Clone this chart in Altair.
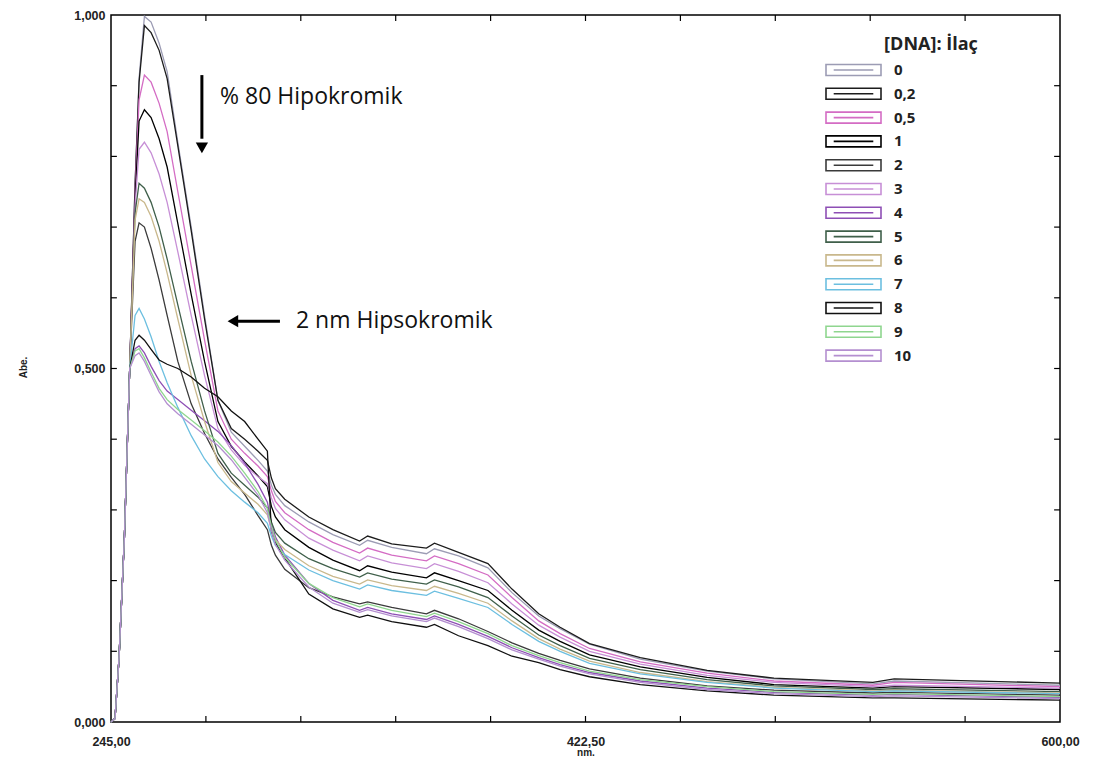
import altair as alt
import pandas as pd

# Wavelength grid (nm) shared by all spectra
WL = [245, 246.5, 248, 250, 252, 254, 255.5, 257.5, 260, 263, 266, 270, 275, 280, 285,
      290, 295, 300, 303.5, 305, 306.5, 310, 319, 328, 338, 341, 350, 363, 366, 375,
      386, 395, 405, 413, 424, 443, 468, 493, 530, 538, 600]

CONC = ["0", "0,2", "0,5", "1", "2", "3", "4", "5", "6", "7", "8", "9", "10"]
COLORS = ["#9c9cb4", "#1c1c1c", "#d46cc4", "#000000", "#3a3a3a", "#c78fd6", "#8e4fb5",
          "#3f5f4a", "#c9b88c", "#6cbfe0", "#101010", "#8fd68f", "#b48fd0"]

S_0 = [0, 0.005, 0.09, 0.26, 0.50, 0.76, 0.91, 0.998, 0.99, 0.96, 0.92, 0.82, 0.70, 0.575, 0.455,
       0.41, 0.39, 0.37, 0.355, 0.335, 0.322, 0.306, 0.283, 0.265, 0.25, 0.257, 0.247, 0.238, 0.245, 0.235,
       0.218, 0.183, 0.15, 0.132, 0.11, 0.089, 0.072, 0.061, 0.054, 0.058, 0.052]
S_02 = [0, 0.005, 0.09, 0.26, 0.50, 0.76, 0.905, 0.985, 0.975, 0.95, 0.91, 0.815, 0.695, 0.57, 0.455,
        0.415, 0.40, 0.383, 0.37, 0.345, 0.33, 0.315, 0.29, 0.272, 0.256, 0.263, 0.252, 0.246, 0.253, 0.24,
        0.224, 0.188, 0.153, 0.134, 0.111, 0.091, 0.073, 0.062, 0.056, 0.061, 0.055]
S_05 = [0, 0.005, 0.09, 0.26, 0.50, 0.75, 0.88, 0.915, 0.905, 0.875, 0.835, 0.75, 0.645, 0.54, 0.44,
        0.40, 0.38, 0.362, 0.347, 0.327, 0.312, 0.296, 0.272, 0.254, 0.239, 0.246, 0.236, 0.228, 0.235, 0.224,
        0.208, 0.176, 0.143, 0.125, 0.104, 0.085, 0.069, 0.058, 0.052, 0.056, 0.05]
S_1 = [0, 0.005, 0.09, 0.26, 0.50, 0.74, 0.85, 0.866, 0.855, 0.825, 0.785, 0.705, 0.605, 0.51, 0.425,
       0.39, 0.368, 0.348, 0.333, 0.305, 0.29, 0.272, 0.247, 0.229, 0.214, 0.221, 0.212, 0.204, 0.211, 0.2,
       0.186, 0.158, 0.13, 0.114, 0.095, 0.078, 0.063, 0.053, 0.048, 0.05, 0.046]
S_2 = [0, 0.005, 0.09, 0.26, 0.50, 0.68, 0.706, 0.70, 0.67, 0.625, 0.575, 0.51, 0.45, 0.408, 0.372,
       0.346, 0.322, 0.292, 0.272, 0.25, 0.236, 0.216, 0.19, 0.177, 0.167, 0.17, 0.162, 0.153, 0.158, 0.146,
       0.128, 0.112, 0.097, 0.087, 0.075, 0.062, 0.051, 0.045, 0.041, 0.042, 0.038]
S_3 = [0, 0.005, 0.09, 0.26, 0.50, 0.73, 0.81, 0.82, 0.805, 0.775, 0.735, 0.665, 0.575, 0.49, 0.415,
       0.385, 0.363, 0.347, 0.337, 0.317, 0.302, 0.286, 0.26, 0.243, 0.228, 0.235, 0.225, 0.217, 0.224, 0.213,
       0.197, 0.167, 0.137, 0.12, 0.1, 0.082, 0.066, 0.056, 0.05, 0.052, 0.048]
S_4 = [0, 0.005, 0.09, 0.26, 0.50, 0.528, 0.532, 0.522, 0.503, 0.483, 0.468, 0.456, 0.441, 0.426, 0.411,
       0.391, 0.366, 0.336, 0.311, 0.282, 0.262, 0.236, 0.196, 0.172, 0.158, 0.162, 0.153, 0.145, 0.15, 0.138,
       0.121, 0.105, 0.091, 0.081, 0.07, 0.058, 0.048, 0.042, 0.038, 0.039, 0.035]
S_5 = [0, 0.005, 0.09, 0.26, 0.50, 0.72, 0.762, 0.755, 0.735, 0.70, 0.655, 0.59, 0.51, 0.44, 0.38,
       0.352, 0.335, 0.318, 0.303, 0.283, 0.268, 0.253, 0.231, 0.217, 0.205, 0.211, 0.202, 0.195, 0.201, 0.191,
       0.176, 0.15, 0.123, 0.108, 0.09, 0.074, 0.06, 0.051, 0.046, 0.047, 0.043]
S_6 = [0, 0.005, 0.09, 0.26, 0.50, 0.71, 0.74, 0.735, 0.715, 0.68, 0.635, 0.57, 0.49, 0.425, 0.367,
       0.34, 0.324, 0.308, 0.293, 0.273, 0.258, 0.244, 0.221, 0.206, 0.195, 0.201, 0.193, 0.186, 0.192, 0.182,
       0.168, 0.143, 0.118, 0.103, 0.086, 0.07, 0.057, 0.049, 0.044, 0.045, 0.041]
S_7 = [0, 0.005, 0.09, 0.26, 0.50, 0.575, 0.585, 0.57, 0.545, 0.51, 0.48, 0.445, 0.405, 0.372, 0.347,
       0.327, 0.311, 0.296, 0.281, 0.263, 0.25, 0.237, 0.215, 0.2, 0.188, 0.194, 0.186, 0.179, 0.185, 0.175,
       0.162, 0.138, 0.114, 0.1, 0.083, 0.068, 0.056, 0.048, 0.043, 0.044, 0.04]
S_8 = [0, 0.005, 0.09, 0.26, 0.50, 0.54, 0.547, 0.54, 0.527, 0.512, 0.506, 0.50, 0.488, 0.472, 0.46,
       0.44, 0.425, 0.40, 0.383, 0.27, 0.254, 0.232, 0.181, 0.16, 0.148, 0.151, 0.142, 0.134, 0.138, 0.122,
       0.108, 0.093, 0.084, 0.074, 0.064, 0.053, 0.044, 0.038, 0.034, 0.034, 0.031]
S_9 = [0, 0.005, 0.09, 0.26, 0.50, 0.525, 0.528, 0.515, 0.495, 0.472, 0.456, 0.442, 0.427, 0.412, 0.396,
       0.376, 0.352, 0.326, 0.302, 0.277, 0.257, 0.233, 0.196, 0.176, 0.163, 0.167, 0.158, 0.149, 0.154, 0.142,
       0.125, 0.108, 0.094, 0.084, 0.072, 0.06, 0.05, 0.043, 0.039, 0.04, 0.036]
S_10 = [0, 0.005, 0.09, 0.26, 0.50, 0.518, 0.522, 0.51, 0.49, 0.467, 0.45, 0.436, 0.421, 0.406, 0.391,
        0.371, 0.346, 0.321, 0.296, 0.271, 0.251, 0.229, 0.191, 0.168, 0.155, 0.159, 0.15, 0.142, 0.147, 0.135,
        0.118, 0.102, 0.089, 0.079, 0.068, 0.056, 0.046, 0.04, 0.036, 0.037, 0.033]

SERIES = [S_0, S_02, S_05, S_1, S_2, S_3, S_4, S_5, S_6, S_7, S_8, S_9, S_10]

X_LABELS = [245, 422.5, 600]
Y_LABELS = [0, 0.5, 1.0]
X_TICKS = [280.5, 316, 351.5, 387, 422.5, 458, 493.5, 529, 564.5]
Y_TICKS = [0.1, 0.2, 0.3, 0.4, 0.5, 0.6, 0.7, 0.8, 0.9]

LEGEND_TITLE = "[DNA]: İlaç"
ANNOT_TEXT = ["% 80 Hipokromik", "2 nm Hipsokromik"]
ANNOT_X = [285.8, 314.2]
ANNOT_Y = [0.884, 0.567]

rows = []
for name, vals in zip(CONC, SERIES):
    for w, a in zip(WL, vals):
        rows.append({"conc": name, "wl": w, "abs": a})
df = pd.DataFrame(rows)

# inner tick marks on the frame
tick_rows = []
for t in X_TICKS:
    tick_rows.append({"wl": t, "wl2": t, "abs": 0.0, "abs2": 0.0085})
    tick_rows.append({"wl": t, "wl2": t, "abs": 1.0, "abs2": 0.9915})
for t in Y_TICKS:
    tick_rows.append({"wl": 245.0, "wl2": 247.2, "abs": t, "abs2": t})
    tick_rows.append({"wl": 600.0, "wl2": 597.8, "abs": t, "abs2": t})
ticks_df = pd.DataFrame(tick_rows)

shaft_df = pd.DataFrame([
    {"wl": 279.0, "wl2": 279.0, "abs": 0.915, "abs2": 0.825},
    {"wl": 292.5, "wl2": 308.2, "abs": 0.567, "abs2": 0.567},
])
head_df = pd.DataFrame([
    {"wl": 279.0, "abs": 0.812, "shape": "triangle-down"},
    {"wl": 290.6, "abs": 0.567, "shape": "triangle-left"},
])
text_df = pd.DataFrame({"label": ANNOT_TEXT, "wl": ANNOT_X, "abs": ANNOT_Y})
ltitle_df = pd.DataFrame({"label": [LEGEND_TITLE], "wl": [534.2], "abs": [0.958]})

xscale = alt.Scale(domain=[245, 600], nice=False, zero=False)
yscale = alt.Scale(domain=[0, 1], nice=False, zero=False)

legend = alt.Legend(
    title=None,
    orient="none", legendX=714, legendY=48, padding=0,
    symbolType="M-1,-0.2H1V0.2H-1Z M-0.72,0H0.72",
    symbolSize=3025, symbolStrokeWidth=1.6, clipHeight=14,
    rowPadding=8.8, labelOffset=12,
    labelFont="Open Sans", labelFontWeight="bold", labelFontSize=15, labelColor="#222",
)

lines = alt.Chart(df).mark_line(strokeWidth=1.3).encode(
    x=alt.X("wl:Q", scale=xscale, axis=alt.Axis(
        values=X_LABELS, title="nm.",
        labelExpr="replace(format(datum.value, '.2f'), '.', ',')",
        labelFont="Liberation Sans", labelFontSize=12.5, labelFontWeight="bold", labelColor="#222",
        labelPadding=13, labelFlush=False,
        titleFont="Liberation Sans", titleFontSize=10, titleFontWeight="bold", titleColor="#222",
        titlePadding=0)),
    y=alt.Y("abs:Q", scale=yscale, axis=alt.Axis(
        values=Y_LABELS, title="Abe.",
        labelExpr="replace(format(datum.value, '.3f'), '.', ',')",
        labelFont="Liberation Sans", labelFontSize=12.5, labelFontWeight="bold", labelColor="#222",
        labelPadding=6,
        titleFont="Liberation Sans", titleFontSize=10, titleFontWeight="bold", titleColor="#222",
        titleX=-88, titleY=352, titleAngle=270, titleBaseline="middle")),
    color=alt.Color("conc:N", scale=alt.Scale(domain=CONC, range=COLORS), sort=CONC, legend=legend),
    order=alt.Order("wl:Q"),
)

ticks = alt.Chart(ticks_df).mark_rule(color="black", strokeWidth=1.2).encode(
    x="wl:Q", x2="wl2:Q", y="abs:Q", y2="abs2:Q")

shafts = alt.Chart(shaft_df).mark_rule(color="black", strokeWidth=3).encode(
    x="wl:Q", x2="wl2:Q", y="abs:Q", y2="abs2:Q")

heads = alt.Chart(head_df).mark_point(filled=True, size=150, color="black", opacity=1).encode(
    x="wl:Q", y="abs:Q", shape=alt.Shape("shape:N", scale=None, legend=None))

texts = alt.Chart(text_df).mark_text(align="left", baseline="middle", font="Open Sans",
                                     fontSize=23, color="#111").encode(
    x="wl:Q", y="abs:Q", text="label:N")

ltitle = alt.Chart(ltitle_df).mark_text(align="left", baseline="middle", font="Open Sans",
                                        fontSize=18, fontWeight="bold", color="#222").encode(
    x="wl:Q", y="abs:Q", text="label:N")

chart = alt.layer(lines, ticks, shafts, heads, texts, ltitle).properties(
    width=949, height=707,
    autosize=alt.AutoSizeParams(type="none"),
    padding={"left": 103, "top": 7, "right": 26, "bottom": 38},
).configure_view(stroke="black", strokeWidth=1.5).configure_axis(
    grid=False, domain=False, ticks=False)

chart.save("out.html", embed_options={"renderer": "svg", "actions": False})
